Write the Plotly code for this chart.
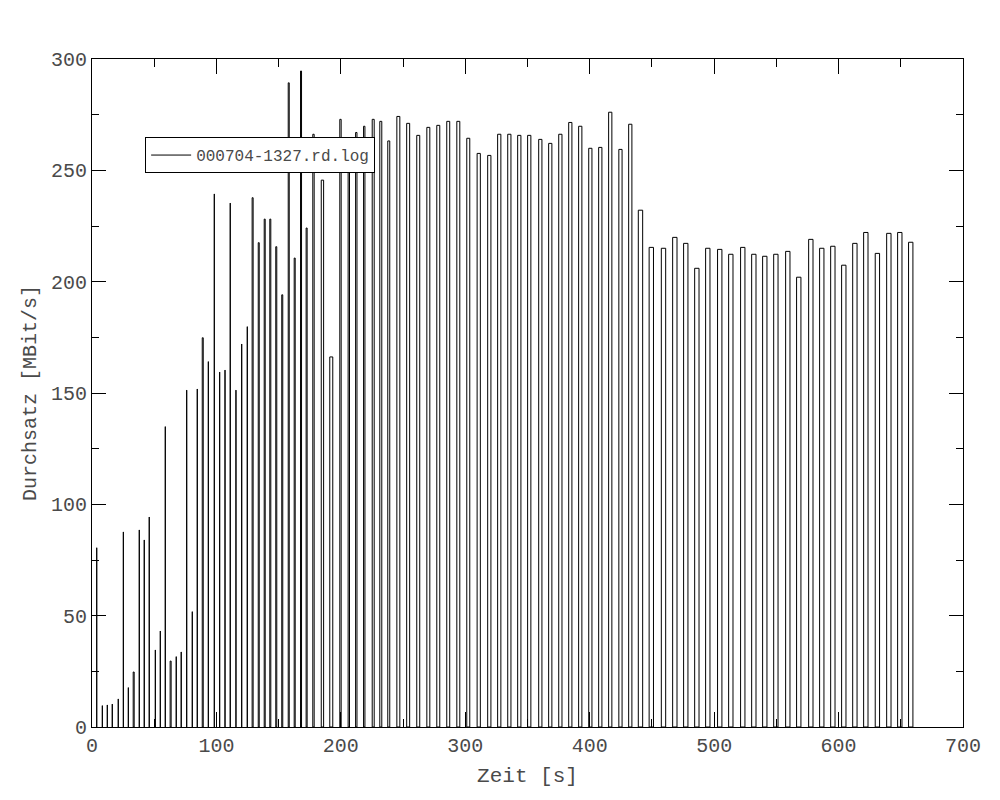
import plotly.graph_objects as go

# Zeitpunkte der Messungen [s]
zeit = [
    3.8, 8.3, 12.3, 16.3, 21.1, 25.2, 29.2, 33.5, 38.0, 42.0,
    46.0, 50.9, 54.9, 58.9, 63.2, 67.7, 71.7, 76.1, 80.6, 84.6,
    89.0, 93.5, 98.3, 102.6, 106.9, 111.1, 115.7, 120.3, 124.8, 129.1,
    134.0, 138.8, 143.3, 148.1, 152.9, 158.1, 162.9, 168.0, 172.5, 178.0,
    185.2, 192.3, 199.7, 206.4, 212.4, 218.8, 226.0, 232.1, 238.5, 246.2,
    254.1, 262.2, 270.3, 278.3, 286.3, 294.4, 302.4, 310.8, 319.3, 327.3,
    335.4, 343.4, 351.4, 360.3, 368.3, 376.4, 384.4, 392.4, 400.5, 408.5,
    416.5, 424.7, 432.6, 440.8, 449.5, 459.3, 468.4, 477.2, 486.1, 494.9,
    504.5, 513.4, 523.0, 531.9, 540.7, 549.6, 559.2, 568.0, 577.7, 586.5,
    595.4, 604.2, 613.1, 621.9, 631.2, 640.4, 649.2, 658.0,
]

# Durchsatz [MBit/s]
durchsatz = [
    80.5, 9.6, 9.9, 10.3, 12.6, 87.6, 17.7, 24.7, 88.5, 84.0,
    94.3, 34.6, 43.1, 134.9, 29.6, 31.6, 33.7, 151.3, 51.8, 151.8,
    174.8, 164.1, 239.4, 159.4, 160.3, 235.3, 151.3, 172.0, 179.8, 237.7,
    217.5, 228.1, 228.1, 215.7, 194.1, 289.3, 210.6, 294.6, 224.1, 266.2,
    245.6, 166.2, 272.9, 260.0, 267.0, 269.8, 272.9, 272.0, 263.2, 274.2,
    271.1, 265.7, 269.3, 270.2, 272.0, 272.0, 264.4, 257.6, 256.7, 266.2,
    266.2, 265.7, 265.7, 263.9, 262.1, 266.2, 271.5, 269.8, 259.9, 260.3,
    276.1, 259.4, 270.7, 232.1, 215.4, 215.0, 219.9, 217.2, 206.0, 215.0,
    214.5, 212.3, 215.4, 212.3, 211.4, 212.3, 213.6, 202.0, 219.0, 215.0,
    215.9, 207.4, 217.2, 222.1, 212.7, 221.7, 222.1, 217.7,
]

# Dauer der einzelnen Messung [s] (Boxbreite)
dauer = [
    0.05, 0.05, 0.05, 0.05, 0.05, 0.05, 0.05, 0.8, 0.05, 0.05,
    0.05, 0.05, 0.05, 0.05, 0.8, 0.05, 0.05, 0.05, 0.05, 0.05,
    0.8, 0.05, 0.05, 0.05, 0.05, 0.05, 0.05, 0.05, 0.05, 0.8,
    0.8, 0.8, 0.8, 0.8, 0.8, 0.8, 0.8, 0.8, 0.8, 1.1,
    1.9, 2.4, 1.1, 1.1, 1.1, 1.1, 1.6, 1.6, 1.6, 2.4,
    2.4, 2.4, 2.4, 2.4, 2.4, 2.4, 2.4, 2.6, 2.6, 2.6,
    2.6, 2.6, 2.6, 2.6, 2.6, 2.6, 2.6, 2.6, 2.6, 2.6,
    2.6, 2.6, 2.6, 3.5, 3.5, 3.5, 3.5, 3.5, 3.5, 3.5,
    3.5, 3.5, 3.5, 3.5, 3.5, 3.5, 3.5, 3.5, 3.5, 3.5,
    3.5, 3.5, 3.5, 3.5, 3.5, 3.5, 3.5, 3.5,
]

name = "000704-1327.rd.log"
FONT = "Liberation Mono, Courier New, monospace"
TEXT = "#4a4a4a"

fig = go.Figure()

fig.add_trace(go.Bar(
    x=zeit,
    y=durchsatz,
    width=dauer,
    marker=dict(color="white", line=dict(color="black", width=1)),
    showlegend=False,
))

# nur fuer den Legendeneintrag (Linie wie bei gnuplot)
fig.add_trace(go.Scatter(
    x=[None], y=[None],
    mode="lines",
    line=dict(color="black", width=1),
    name=name,
))

axis_common = dict(
    showline=True,
    linecolor="black",
    linewidth=1,
    mirror="ticks",
    ticks="inside",
    tickcolor="black",
    tickwidth=1,
    showgrid=False,
    zeroline=False,
    automargin=False,
    tickfont=dict(family=FONT, size=20, color=TEXT),
)

# die Seite hat 8px Rand, daher die Raender entsprechend kleiner
fig.update_layout(
    width=1000,
    height=800,
    margin=dict(l=84, r=45, t=51, b=81),
    plot_bgcolor="white",
    paper_bgcolor="white",
    font=dict(family=FONT, color=TEXT),
    xaxis=dict(
        **axis_common,
        range=[0, 700],
        dtick=100,
        ticklen=15,
        minor=dict(dtick=50, ticks="inside", ticklen=8, tickcolor="black", showgrid=False),
        title=dict(text="Zeit [s]", font=dict(family=FONT, size=21, color=TEXT), standoff=10),
    ),
    yaxis=dict(
        **axis_common,
        range=[0, 300],
        dtick=50,
        ticklen=14,
        minor=dict(dtick=25, ticks="inside", ticklen=7, tickcolor="black", showgrid=False),
        title=dict(text="Durchsatz [MBit/s]", font=dict(family=FONT, size=20, color=TEXT), standoff=8),
    ),
    legend=dict(
        x=0.061,
        y=0.883,
        xanchor="left",
        yanchor="top",
        bgcolor="white",
        bordercolor="black",
        borderwidth=1,
        itemwidth=40,
        font=dict(family=FONT, size=16, color=TEXT),
    ),
)

fig.write_html("out.html")
